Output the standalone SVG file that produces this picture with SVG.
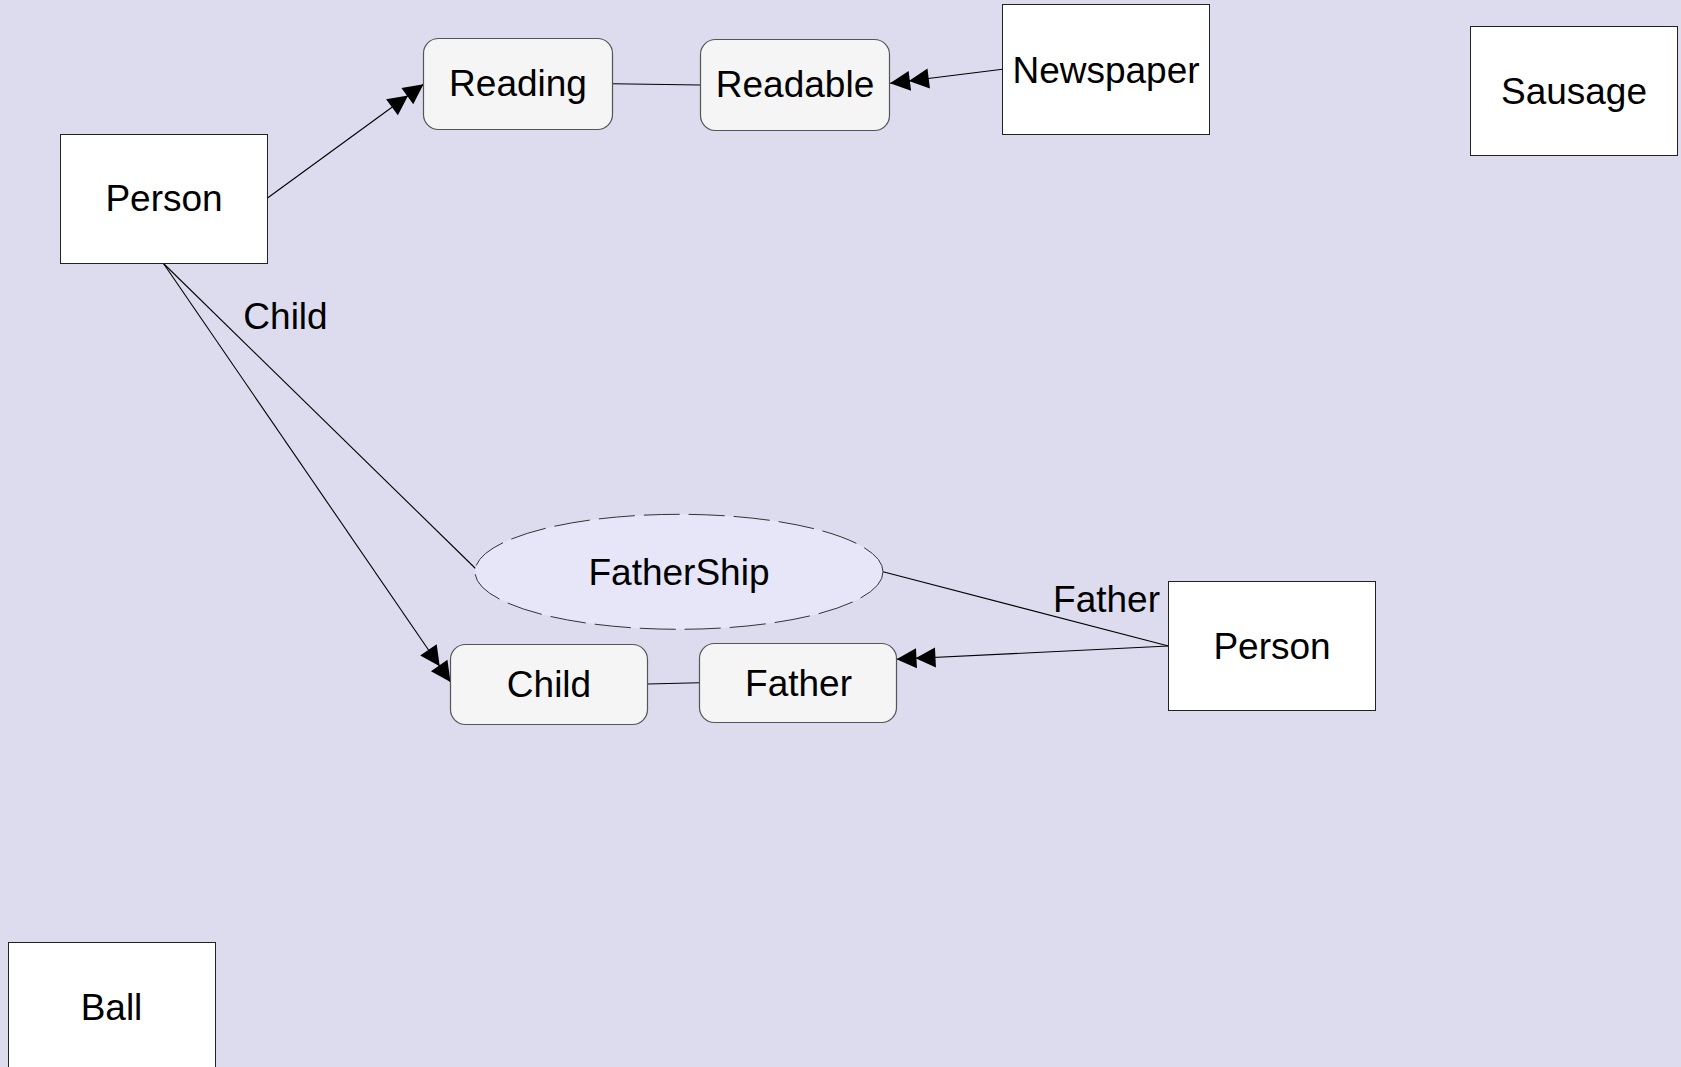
<svg xmlns="http://www.w3.org/2000/svg" width="1681" height="1067" viewBox="0 0 1681 1067">
<style>
.bg{fill:#dcdcee}
.box{fill:#ffffff;stroke:#222;stroke-width:1}
.rbox{fill:#f5f5f5;stroke:#555;stroke-width:1.2}
.ell{fill:#e6e6f8;stroke:#333;stroke-width:1;stroke-dasharray:36 9}
.t{font-family:"Liberation Sans",Arial,sans-serif;font-size:37px;fill:#000;text-anchor:middle}
.lbl{font-family:"Liberation Sans",Arial,sans-serif;font-size:37px;fill:#000}
.c{stroke:#000;stroke-width:1.1;fill:none}
.a{marker-end:url(#dbl)}
</style>
<defs>
<marker id="dbl" markerUnits="userSpaceOnUse" viewBox="-44 -14 46 28" markerWidth="46" markerHeight="28" refX="0" refY="0" orient="auto">
<path d="M0,0 L-20,-10 L-20,10 Z M-19,0 L-39,-10 L-39,10 Z" fill="#000"/>
</marker>
</defs>
<rect class="bg" x="0" y="0" width="1681" height="1067"/>

<g id="connectors">
<line class="c a" x1="267.5" y1="198" x2="423.5" y2="84.3"/>
<line class="c" x1="612.5" y1="83.7" x2="700.5" y2="85"/>
<line class="c a" x1="1002.5" y1="69.3" x2="890" y2="83.3"/>
<line class="c" x1="163.5" y1="263.5" x2="475.5" y2="568.5"/>
<line class="c a" x1="163.5" y1="263.5" x2="450.5" y2="682"/>
<line class="c" x1="883" y1="571.7" x2="1168.5" y2="646"/>
<line class="c a" x1="1168.5" y1="646" x2="896.5" y2="659.3"/>
<line class="c" x1="647.5" y1="684" x2="699.5" y2="682.7"/>
<text class="lbl" x="285.5" y="329" text-anchor="middle">Child</text>
<text class="lbl" x="1160" y="612" text-anchor="end">Father</text>
</g>

<g id="person1">
<rect class="box" x="60.5" y="134.5" width="207" height="129"/>
<text class="t" x="164" y="211">Person</text>
</g>
<g id="reading">
<rect class="rbox" x="423.5" y="38.5" width="189" height="91" rx="15" ry="15"/>
<text class="t" x="518" y="96">Reading</text>
</g>
<g id="readable">
<rect class="rbox" x="700.5" y="39.5" width="189" height="91" rx="15" ry="15"/>
<text class="t" x="795" y="97">Readable</text>
</g>
<g id="newspaper">
<rect class="box" x="1002.5" y="4.5" width="207" height="130"/>
<text class="t" x="1106" y="83">Newspaper</text>
</g>
<g id="sausage">
<rect class="box" x="1470.5" y="26.5" width="207" height="129"/>
<text class="t" x="1574" y="104">Sausage</text>
</g>
<g id="fathership">
<ellipse class="ell" cx="679" cy="571.8" rx="204" ry="57.5"/>
<text class="t" x="679" y="585">FatherShip</text>
</g>
<g id="child">
<rect class="rbox" x="450.5" y="644.5" width="197" height="80" rx="15" ry="15"/>
<text class="t" x="549" y="697">Child</text>
</g>
<g id="father">
<rect class="rbox" x="699.5" y="643.5" width="197" height="79" rx="15" ry="15"/>
<text class="t" x="798.5" y="696">Father</text>
</g>
<g id="person2">
<rect class="box" x="1168.5" y="581.5" width="207" height="129"/>
<text class="t" x="1272" y="659">Person</text>
</g>
<g id="ball">
<rect class="box" x="8.5" y="942.5" width="207" height="130"/>
<text class="t" x="111.5" y="1019.5">Ball</text>
</g>
</svg>
